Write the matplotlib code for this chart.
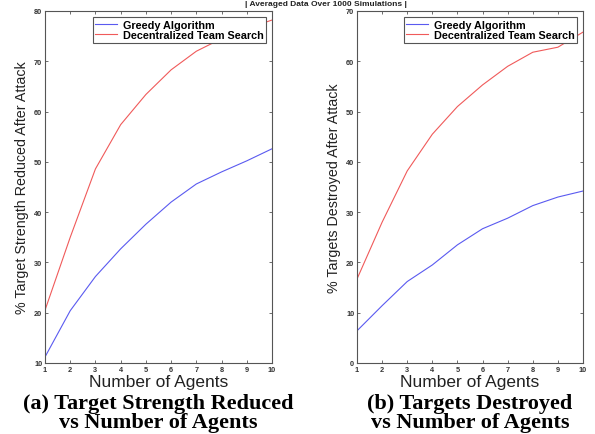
import matplotlib
matplotlib.use('Agg')
import matplotlib.pyplot as plt

agents = [1, 2, 3, 4, 5, 6, 7, 8, 9, 10]

# (a) target strength reduced, %
strength_greedy = [11.2, 20.4, 27.2, 32.7, 37.6, 42.0, 45.6, 48.0, 50.2, 52.6]
strength_team = [20.5, 35.0, 48.6, 57.4, 63.4, 68.3, 72.0, 74.5, 76.5, 78.2]

# (b) targets destroyed, %
destroyed_greedy = [6.4, 11.4, 16.2, 19.5, 23.5, 26.7, 28.8, 31.3, 33.0, 34.2]
destroyed_team = [16.7, 28.0, 38.2, 45.5, 51.0, 55.3, 59.0, 61.8, 62.8, 65.8]

series_names = ['Greedy Algorithm', 'Decentralized Team Search']
ylabels = ['% Target Strength Reduced After Attack', '% Targets Destroyed After Attack']
captions = ['(a) Target Strength Reduced\nvs Number of Agents',
            '(b) Targets Destroyed\nvs Number of Agents']
ylims = [(10, 80), (0, 70)]

plt.rcParams['font.family'] = ['Liberation Sans', 'DejaVu Sans']

BLUE = '#5a5af0'
RED = '#f05a5a'
GRAY = '#555555'

fig = plt.figure(figsize=(5.95, 4.35), dpi=100)

positions = [[45 / 595, 71 / 435, 227 / 595, 352 / 435],
             [357 / 595, 71 / 435, 226 / 595, 352 / 435]]
data = [(strength_greedy, strength_team), (destroyed_greedy, destroyed_team)]

for i in range(2):
    ax = fig.add_axes(positions[i])
    greedy, team = data[i]
    ax.plot(agents, greedy, color=BLUE, lw=0.8, label=series_names[0])
    ax.plot(agents, team, color=RED, lw=0.8, label=series_names[1])
    ax.set_xlim(1, 10)
    ax.set_ylim(*ylims[i])
    ax.set_xticks(agents)
    ax.set_yticks(range(ylims[i][0], ylims[i][1] + 1, 10))
    ax.tick_params(direction='in', top=True, right=True, length=2.5, width=0.6,
                   colors=GRAY, labelsize=5.3, pad=2)
    for lab in ax.get_xticklabels() + ax.get_yticklabels():
        lab.set_fontweight('bold')
        lab.set_color('#333333')
    for sp in ax.spines.values():
        sp.set_color(GRAY)
        sp.set_linewidth(0.8)
    ax.set_xlabel('Number of Agents', fontsize=12.5, color='#222222', labelpad=1)
    ax.set_ylabel(ylabels[i], fontsize=10.3, color='#222222', labelpad=4)
    leg = ax.legend(loc='upper right', prop={'weight': 'bold', 'size': 7.8},
                    fancybox=False, framealpha=1, edgecolor=GRAY, borderpad=0.25,
                    handlelength=2.0, handletextpad=0.5, labelspacing=0.05,
                    borderaxespad=0.55)
    leg.get_frame().set_linewidth(0.8)
    cx = positions[i][0] + positions[i][2] / 2
    fig.text(cx, 0.005, captions[i], ha='center', va='bottom', fontsize=16,
             family='Liberation Serif', weight='bold', linespacing=0.95)

fig.text(0.547, 1 - 1 / 435, '| Averaged Data Over 1000 Simulations |', ha='center', va='top',
         fontsize=6, weight='bold', color='#222222')

fig.savefig('out.png', dpi=100)
